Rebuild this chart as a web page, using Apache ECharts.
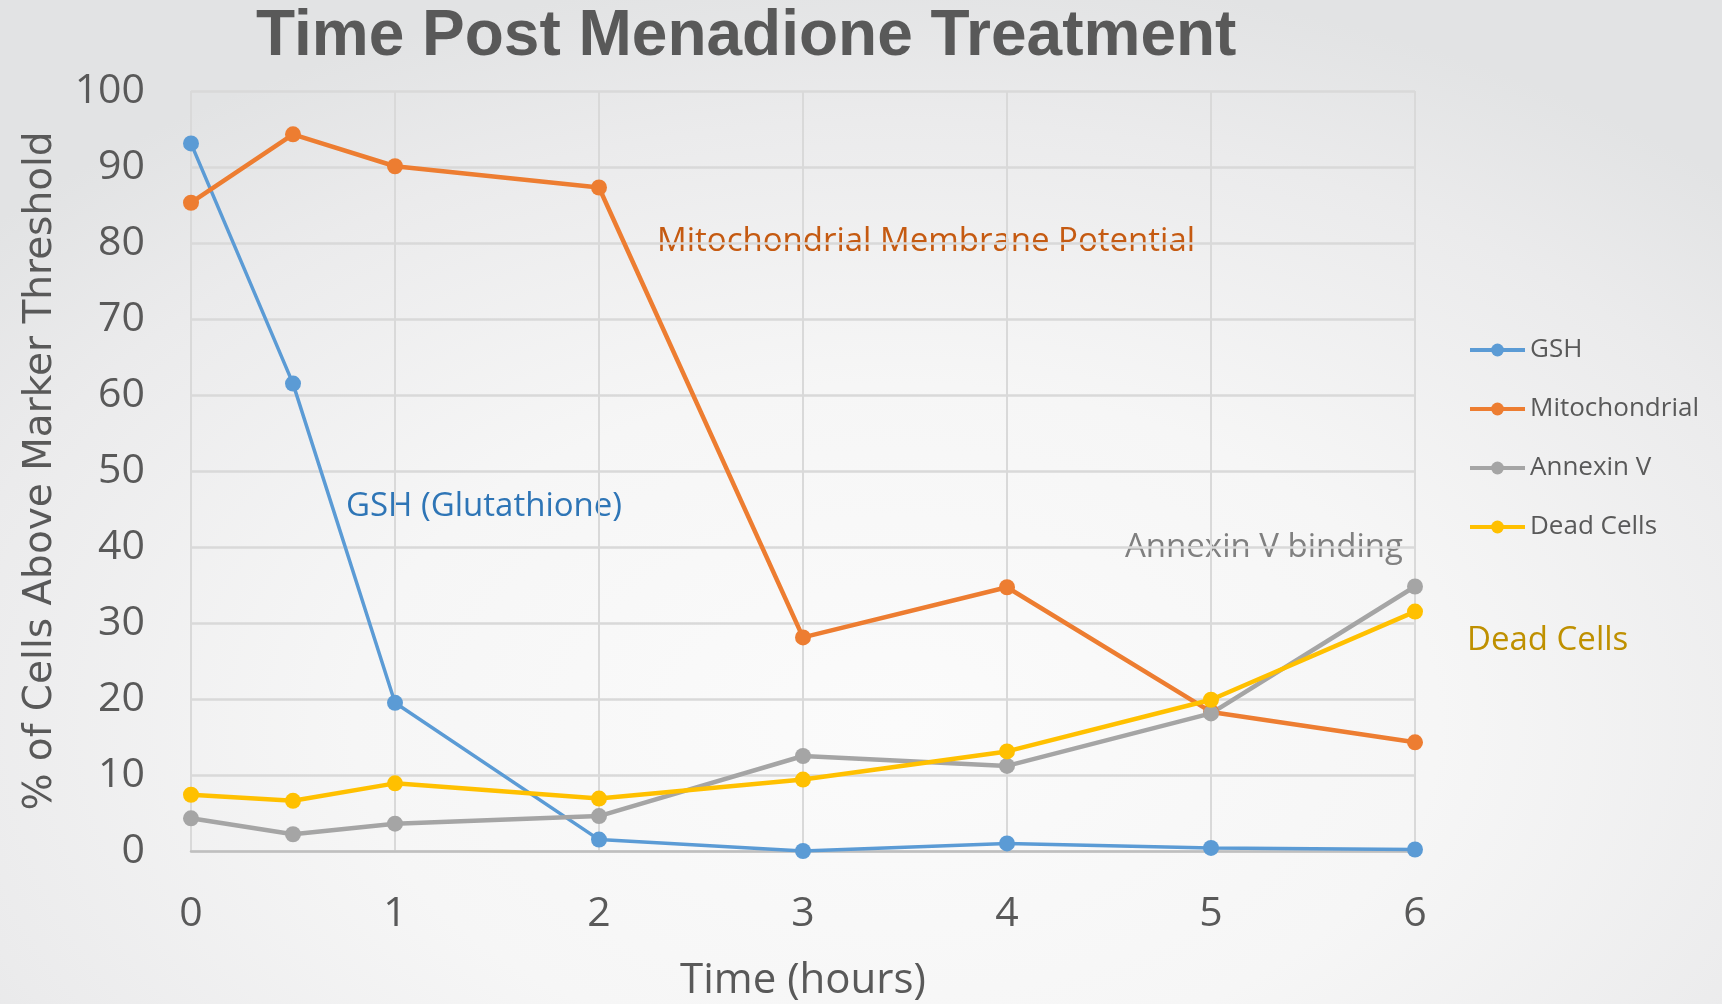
<!DOCTYPE html>
<html>
<head>
<meta charset="utf-8">
<title>Time Post Menadione Treatment</title>
<script src="https://cdn.jsdelivr.net/npm/echarts@6/dist/echarts.min.js"></script>
<style>
    html, body { margin: 0; padding: 0; }
    body {
        width: 1722px; height: 1004px; overflow: hidden;
        background: radial-gradient(ellipse 70% 75% at 52% 72%, #fbfbfb 0%, #f6f6f6 45%, #ebebec 80%, #e2e3e4 100%);
    }
    #divChart { width: 1722px; height: 1004px; }
</style>
</head>
<body>
<div id="divChart"></div>
<script>
// hours after treatment (0.5 h sample sits between 0 and 1)
var hours = [0, 0.5, 1, 2, 3, 4, 5, 6];
var seriesNames = ["GSH", "Mitochondrial", "Annexin V", "Dead Cells"];
var gshValues = [93.1, 61.5, 19.5, 1.5, 0.0, 1.0, 0.4, 0.2];
var mitoValues = [85.3, 94.3, 90.1, 87.3, 28.1, 34.7, 18.3, 14.3];
var annexinValues = [4.3, 2.2, 3.6, 4.6, 12.5, 11.2, 18.1, 34.8];
var deadValues = [7.4, 6.6, 8.9, 6.9, 9.4, 13.1, 19.9, 31.5];
var xTicks = [0, 1, 2, 3, 4, 5, 6];
var yTicks = [0, 10, 20, 30, 40, 50, 60, 70, 80, 90, 100];

var colors = ["#5B9BD5", "#ED7D31", "#A5A5A5", "#FFC000"];
var tickFont = "'Open Sans', sans-serif";

function toPoints(values) {
    var pts = [];
    for (var i = 0; i < hours.length; i++) {
        pts.push([hours[i], values[i]]);
    }
    return pts;
}

function lineSeries(name, values, color, width) {
    return {
        name: name,
        type: 'line',
        data: toPoints(values),
        symbol: 'circle',
        symbolSize: 16,
        showAllSymbol: true,
        lineStyle: { color: color, width: width },
        itemStyle: { color: color },
        emphasis: { disabled: true },
        animation: false
    };
}

var myChart = echarts.init(document.getElementById('divChart'));
var option = {
    backgroundColor: 'transparent',
    title: {
        text: 'Time Post Menadione Treatment',
        left: 251,
        top: 0,
        textStyle: {
            fontFamily: "'Liberation Sans', Arial, sans-serif",
            fontWeight: 'bold',
            fontSize: 64,
            color: '#595959'
        }
    },
    legend: {
        orient: 'vertical',
        left: 1468,
        top: 335,
        padding: 0,
        itemWidth: 55,
        itemHeight: 16,
        itemGap: 29,
        data: seriesNames,
        lineStyle: { width: 4 },
        textStyle: { fontFamily: tickFont, fontSize: 26, color: '#595959', lineHeight: 30 }
    },
    grid: { left: 191, right: 307, top: 91, bottom: 153, outerBoundsMode: 'none' },
    xAxis: {
        type: 'value',
        min: xTicks[0],
        max: xTicks[xTicks.length - 1],
        interval: 1,
        name: 'Time (hours)',
        nameLocation: 'middle',
        nameGap: 109,
        nameTextStyle: { fontFamily: tickFont, fontSize: 42, color: '#595959' },
        axisLine: { show: true, lineStyle: { color: '#BFBFBF', width: 2.5 } },
        axisTick: { show: false },
        axisLabel: { margin: 43, fontFamily: tickFont, fontSize: 41, color: '#595959' },
        splitLine: { show: true, lineStyle: { color: '#D9D9D9', width: 2 } }
    },
    yAxis: {
        type: 'value',
        min: yTicks[0],
        max: yTicks[yTicks.length - 1],
        interval: 10,
        name: '% of Cells Above Marker Threshold',
        nameLocation: 'middle',
        nameRotate: 90,
        nameGap: 131,
        nameTextStyle: { fontFamily: "'DejaVu Sans', sans-serif", fontSize: 39, color: '#595959' },
        axisLine: { show: false },
        axisTick: { show: false },
        axisLabel: { margin: 46, fontFamily: tickFont, fontSize: 41, color: '#595959' },
        splitLine: { show: true, lineStyle: { color: '#D9D9D9', width: 2.5 } }
    },
    graphic: [
        { type: 'text', left: 657, top: 225, style: { text: 'Mitochondrial Membrane Potential', font: "33px 'Open Sans'", fill: '#C55A11' } },
        { type: 'text', left: 346, top: 490, style: { text: 'GSH (Glutathione)', font: "33px 'Open Sans'", fill: '#2E75B6' } },
        { type: 'text', left: 1125, top: 531, style: { text: 'Annexin V binding', font: "33px 'Open Sans'", fill: '#808080' } },
        { type: 'text', left: 1467, top: 624, style: { text: 'Dead Cells', font: "33px 'Open Sans'", fill: '#BF9000' } }
    ],
    series: [
        lineSeries(seriesNames[0], gshValues, colors[0], 3.5),
        lineSeries(seriesNames[1], mitoValues, colors[1], 4.5),
        lineSeries(seriesNames[2], annexinValues, colors[2], 4.5),
        lineSeries(seriesNames[3], deadValues, colors[3], 4.5)
    ]
};
myChart.setOption(option);
</script>
</body>
</html>
